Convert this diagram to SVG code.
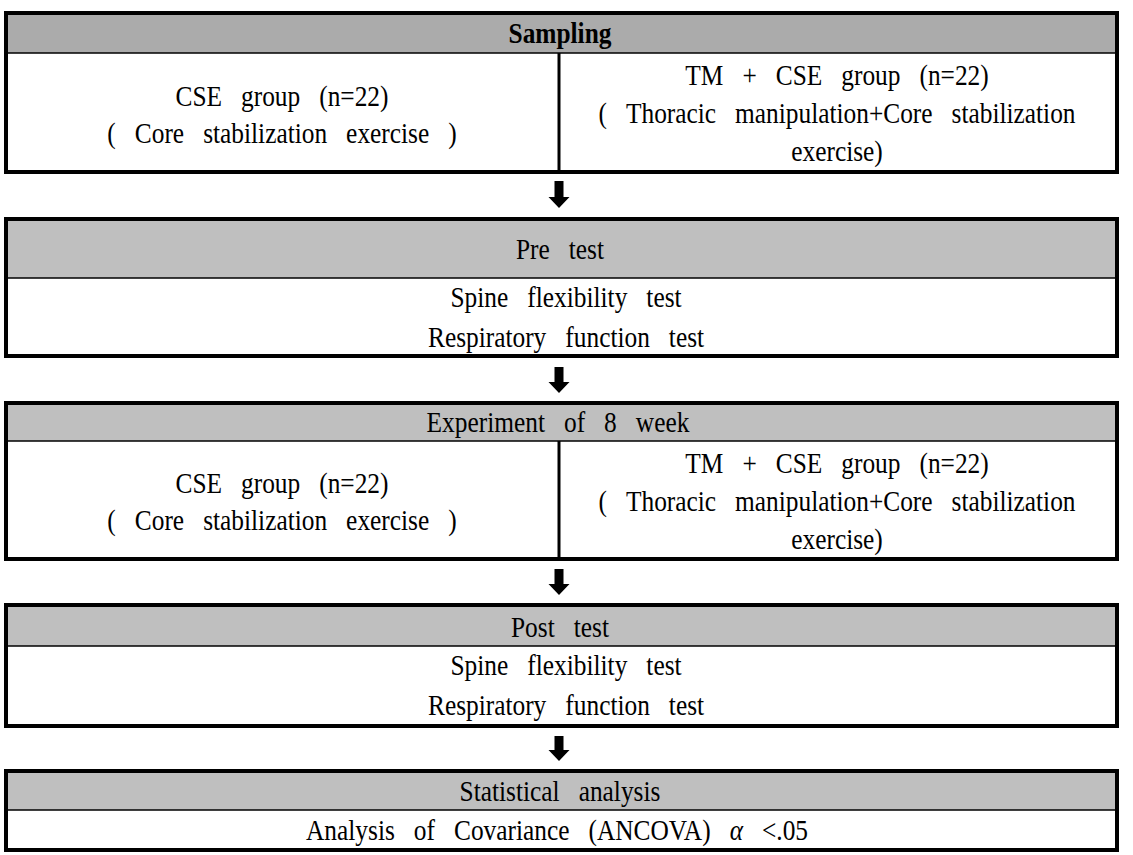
<svg xmlns="http://www.w3.org/2000/svg" width="1133" height="855" viewBox="0 0 1133 855">
<style>
.frame{fill:none;stroke:#000;stroke-width:4}
.hd{stroke:#000;stroke-width:1.5}
.h1{fill:#ababab}
.h2{fill:#bfbfbf}
.div{stroke:#000;stroke-width:3}
.arr{fill:#000}
</style>
<rect width="1133" height="855" fill="#fff"/>
<g id="sampling">
<rect class="h1 hd" x="6" y="13" width="1111" height="40"/>
<rect class="frame" x="6" y="13" width="1111" height="159"/>
<line class="div" x1="559" y1="53" x2="559" y2="172"/>
<g transform="scale(0.875 1)" font-family="Liberation Serif" font-size="29" text-anchor="middle" fill="#000">
<text x="640" y="43" font-weight="bold">Sampling</text>
<text x="322.3" y="106">CSE&#160;&#160;&#160;group&#160;&#160;&#160;(n=22)</text>
<text x="322.3" y="143">(&#160;&#160;&#160;Core&#160;&#160;&#160;stabilization&#160;&#160;&#160;exercise&#160;&#160;&#160;)</text>
<text x="956.6" y="85">TM&#160;&#160;&#160;+&#160;&#160;&#160;CSE&#160;&#160;&#160;group&#160;&#160;&#160;(n=22)</text>
<text x="956.6" y="123">(&#160;&#160;&#160;Thoracic&#160;&#160;&#160;manipulation+Core&#160;&#160;&#160;stabilization</text>
<text x="956.6" y="161">exercise)</text>
</g>
</g>
<g id="pretest">
<rect class="h2 hd" x="6" y="219" width="1111" height="59"/>
<rect class="frame" x="6" y="219" width="1111" height="137"/>
<g transform="scale(0.875 1)" font-family="Liberation Serif" font-size="29" text-anchor="middle" fill="#000">
<text x="640" y="259">Pre&#160;&#160;&#160;test</text>
<text x="646.9" y="307">Spine&#160;&#160;&#160;flexibility&#160;&#160;&#160;test</text>
<text x="646.9" y="347">Respiratory&#160;&#160;&#160;function&#160;&#160;&#160;test</text>
</g>
</g>
<g id="experiment">
<rect class="h2 hd" x="6" y="403" width="1111" height="38"/>
<rect class="frame" x="6" y="403" width="1111" height="156"/>
<line class="div" x1="559" y1="441" x2="559" y2="559"/>
<g transform="scale(0.875 1)" font-family="Liberation Serif" font-size="29" text-anchor="middle" fill="#000">
<text x="637.7" y="432">Experiment&#160;&#160;&#160;of&#160;&#160;&#160;8&#160;&#160;&#160;week</text>
<text x="322.3" y="493">CSE&#160;&#160;&#160;group&#160;&#160;&#160;(n=22)</text>
<text x="322.3" y="530">(&#160;&#160;&#160;Core&#160;&#160;&#160;stabilization&#160;&#160;&#160;exercise&#160;&#160;&#160;)</text>
<text x="956.6" y="473">TM&#160;&#160;&#160;+&#160;&#160;&#160;CSE&#160;&#160;&#160;group&#160;&#160;&#160;(n=22)</text>
<text x="956.6" y="511">(&#160;&#160;&#160;Thoracic&#160;&#160;&#160;manipulation+Core&#160;&#160;&#160;stabilization</text>
<text x="956.6" y="549">exercise)</text>
</g>
</g>
<g id="posttest">
<rect class="h2 hd" x="6" y="605" width="1111" height="41"/>
<rect class="frame" x="6" y="605" width="1111" height="121"/>
<g transform="scale(0.875 1)" font-family="Liberation Serif" font-size="29" text-anchor="middle" fill="#000">
<text x="640" y="637">Post&#160;&#160;&#160;test</text>
<text x="646.9" y="675">Spine&#160;&#160;&#160;flexibility&#160;&#160;&#160;test</text>
<text x="646.9" y="715">Respiratory&#160;&#160;&#160;function&#160;&#160;&#160;test</text>
</g>
</g>
<g id="analysis">
<rect class="h2 hd" x="6" y="771" width="1111" height="39"/>
<rect class="frame" x="6" y="771" width="1111" height="79"/>
<g transform="scale(0.875 1)" font-family="Liberation Serif" font-size="29" text-anchor="middle" fill="#000">
<text x="640" y="801">Statistical&#160;&#160;&#160;analysis</text>
<text x="636.6" y="840">Analysis&#160;&#160;&#160;of&#160;&#160;&#160;Covariance&#160;&#160;&#160;(ANCOVA)&#160;&#160;&#160;<tspan font-style="italic">α</tspan>&#160;&#160;&#160;&lt;.05</text>
</g>
</g>
<g id="connectors">
<polygon class="arr" points="554.5,181 563.5,181 563.5,197 569.5,197 559,208 548.5,197 554.5,197"/>
<polygon class="arr" points="554.5,367 563.5,367 563.5,382 569.5,382 559,393 548.5,382 554.5,382"/>
<polygon class="arr" points="554.5,569 563.5,569 563.5,584 569.5,584 559,595 548.5,584 554.5,584"/>
<polygon class="arr" points="554.5,736 563.5,736 563.5,750 569.5,750 559,761 548.5,750 554.5,750"/>
</g>
</svg>
